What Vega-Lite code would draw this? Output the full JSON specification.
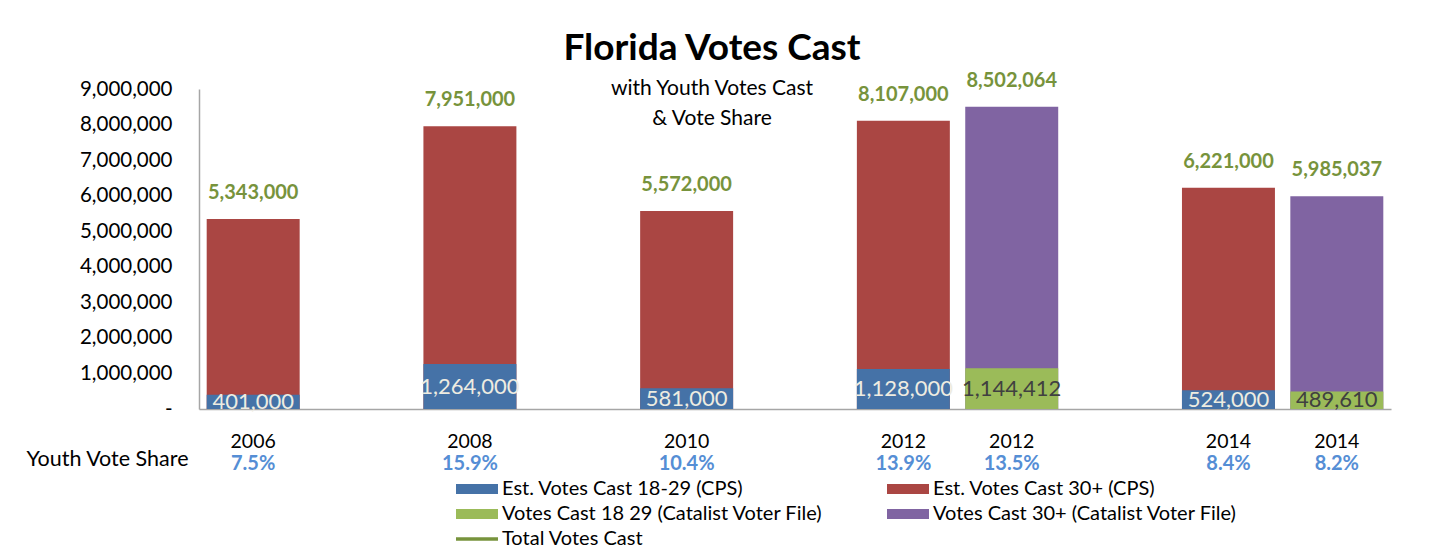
{
  "$schema": "https://vega.github.io/schema/vega-lite/v6.json",
  "autosize": {"type": "none"},
  "width": 1192,
  "height": 320,
  "padding": {"left": 199, "top": 89, "right": 61, "bottom": 143},
  "background": "white",
  "config": {
    "font": "Lato",
    "view": {"stroke": null},
    "axis": {"labelFont": "Lato", "titleFont": "Lato", "labelColor": "#000000", "titleColor": "#000000", "domainColor": "#A6A6A6", "domainWidth": 1.5, "ticks": false, "grid": false},
    "axisY": {"labelOverlap": false}
  },
  "title": {
    "text": "Florida Votes Cast",
    "subtitle": ["with Youth Votes Cast", "& Vote Share"],
    "font": "Lato",
    "fontSize": 37,
    "fontWeight": "bold",
    "color": "#000000",
    "subtitleFont": "Lato",
    "subtitleFontSize": 21,
    "subtitleColor": "#000000",
    "subtitleLineHeight": 30,
    "subtitlePadding": 10,
    "anchor": "middle",
    "frame": "group",
    "dx": -83,
    "offset": -59
  },
  "data": {
    "values": [
      {"slot": "2006", "year": "2006", "src": "CPS", "youth": 401000, "total": 5343000, "share": "7.5%", "youthSeries": "Est. Votes Cast 18-29 (CPS)", "olderSeries": "Est. Votes Cast 30+ (CPS)"},
      {"slot": "2008", "year": "2008", "src": "CPS", "youth": 1264000, "total": 7951000, "share": "15.9%", "youthSeries": "Est. Votes Cast 18-29 (CPS)", "olderSeries": "Est. Votes Cast 30+ (CPS)"},
      {"slot": "2010", "year": "2010", "src": "CPS", "youth": 581000, "total": 5572000, "share": "10.4%", "youthSeries": "Est. Votes Cast 18-29 (CPS)", "olderSeries": "Est. Votes Cast 30+ (CPS)"},
      {"slot": "2012 CPS", "year": "2012", "src": "CPS", "youth": 1128000, "total": 8107000, "share": "13.9%", "youthSeries": "Est. Votes Cast 18-29 (CPS)", "olderSeries": "Est. Votes Cast 30+ (CPS)"},
      {"slot": "2012 Catalist", "year": "2012", "src": "Catalist", "youth": 1144412, "total": 8502064, "share": "13.5%", "youthSeries": "Votes Cast 18 29 (Catalist Voter File)", "olderSeries": "Votes Cast 30+ (Catalist Voter File)"},
      {"slot": "2014 CPS", "year": "2014", "src": "CPS", "youth": 524000, "total": 6221000, "share": "8.4%", "youthSeries": "Est. Votes Cast 18-29 (CPS)", "olderSeries": "Est. Votes Cast 30+ (CPS)"},
      {"slot": "2014 Catalist", "year": "2014", "src": "Catalist", "youth": 489610, "total": 5985037, "share": "8.2%", "youthSeries": "Votes Cast 18 29 (Catalist Voter File)", "olderSeries": "Votes Cast 30+ (Catalist Voter File)"}
    ]
  },
  "encoding": {
    "x": {
      "field": "slot",
      "type": "nominal",
      "sort": null,
      "scale": {"domain": ["2006", "gap1", "2008", "gap2", "2010", "gap3", "2012 CPS", "2012 Catalist", "gap4", "2014 CPS", "2014 Catalist"], "paddingInner": 0.142, "paddingOuter": 0.071},
      "axis": {
        "labelExpr": "indexof(datum.value, 'gap') === 0 ? '' : slice(datum.value, 0, 4)",
        "labelAngle": 0,
        "labelFontSize": 19.5,
        "labelPadding": 32,
        "labelBaseline": "middle",
        "title": "Youth Vote Share",
        "titleFontSize": 21.5,
        "titleFontWeight": "normal",
        "titleAlign": "right",
        "titleBaseline": "middle",
        "titleX": -11,
        "titleY": 50
      }
    }
  },
  "layer": [
    {
      "mark": {"type": "bar"},
      "encoding": {
        "y": {"field": "total", "type": "quantitative", "stack": null, "scale": {"domain": [0, 9000000]},
          "axis": {"title": null, "values": [0, 1000000, 2000000, 3000000, 4000000, 5000000, 6000000, 7000000, 8000000, 9000000], "tickCount": 10, "labelExpr": "datum.value === 0 ? '-' : format(datum.value, ',')", "labelFontSize": 20.5, "labelPadding": 27, "labelOverlap": false,
            "encode": {"labels": {"update": {"dx": {"signal": "datum.value === 0 ? -11 : 0"}}}}}},
        "color": {
          "field": "olderSeries",
          "type": "nominal",
          "scale": {
            "domain": ["Est. Votes Cast 18-29 (CPS)", "Votes Cast 18 29 (Catalist Voter File)", "Total Votes Cast", "Est. Votes Cast 30+ (CPS)", "Votes Cast 30+ (Catalist Voter File)"],
            "range": ["#4572A7", "#9BBB59", "#77933C", "#AA4643", "#8064A2"]
          },
          "legend": {
            "title": null,
            "orient": "none",
            "legendX": 252,
            "legendY": 390,
            "columns": 2,
            "columnPadding": 59,
            "rowPadding": 5,
            "labelFont": "Lato",
            "labelFontSize": 20,
            "labelColor": "#000000",
            "labelOffset": 31,
            "labelLimit": 500,
            "symbolType": "M-1,-1H7.4V1H-1Z",
            "symbolSize": 100,
            "encode": {
              "symbols": {
                "update": {
                  "shape": {"signal": "datum.value === 'Total Votes Cast' ? 'M-1,-0.35H7.4V0.35H-1Z' : 'M-1,-1H7.4V1H-1Z'"},
                  "strokeWidth": {"value": 0}
                }
              }
            }
          }
        }
      }
    },
    {
      "mark": {"type": "bar"},
      "encoding": {
        "y": {"field": "youth", "type": "quantitative", "stack": null},
        "color": {"field": "youthSeries", "type": "nominal"}
      }
    },
    {
      "mark": {"type": "text", "baseline": "alphabetic", "dy": -20, "fontSize": 20, "fontWeight": "bold", "color": "#77933C"},
      "encoding": {
        "y": {"field": "total", "type": "quantitative"},
        "text": {"field": "total", "type": "quantitative", "format": ","}
      }
    },
    {
      "mark": {"type": "text", "baseline": "middle", "fontSize": 22},
      "encoding": {
        "y": {"field": "youth", "type": "quantitative", "stack": "zero", "bandPosition": 0.5},
        "text": {"field": "youth", "type": "quantitative", "format": ","},
        "color": {"condition": {"test": "datum.src === 'CPS'", "value": "#EEECE1"}, "value": "#404040"}
      }
    },
    {
      "mark": {"type": "text", "baseline": "middle", "dy": 55, "fontSize": 20, "fontWeight": "bold", "color": "#558ED5"},
      "encoding": {
        "y": {"datum": 0, "type": "quantitative"},
        "text": {"field": "share", "type": "nominal"}
      }
    }
  ]
}
